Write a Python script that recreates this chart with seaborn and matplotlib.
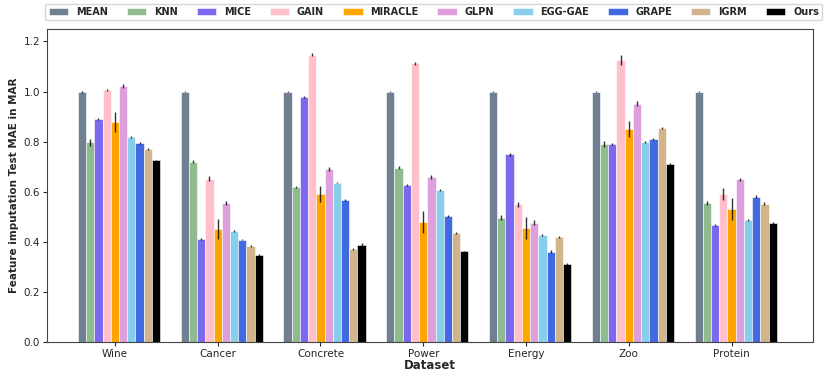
import matplotlib.pyplot as plt
import numpy as np
import pandas as pd
import seaborn as sns

datasets = ["Wine", "Cancer", "Concrete", "Power", "Energy", "Zoo", "Protein"]
methods = ["MEAN", "KNN", "MICE", "GAIN", "MIRACLE", "GLPN", "EGG-GAE", "GRAPE", "IGRM", "Ours"]
colors = ["slategray", "darkseagreen", "mediumslateblue", "pink", "orange",
          "plum", "skyblue", "royalblue", "tan", "black"]

# MAE per method, one value per dataset (same order as datasets)
mean_mae = [1.000, 1.000, 1.000, 1.000, 1.000, 1.000, 1.000]
knn_mae = [0.797, 0.719, 0.620, 0.696, 0.496, 0.791, 0.556]
mice_mae = [0.889, 0.412, 0.977, 0.627, 0.749, 0.789, 0.467]
gain_mae = [1.008, 0.651, 1.146, 1.113, 0.551, 1.126, 0.591]
miracle_mae = [0.877, 0.452, 0.592, 0.480, 0.456, 0.851, 0.532]
glpn_mae = [1.021, 0.556, 0.690, 0.659, 0.476, 0.952, 0.649]
egg_mae = [0.819, 0.444, 0.636, 0.607, 0.428, 0.800, 0.488]
grape_mae = [0.795, 0.409, 0.568, 0.505, 0.360, 0.811, 0.581]
igrm_mae = [0.772, 0.383, 0.372, 0.436, 0.420, 0.853, 0.552]
ours_mae = [0.725, 0.347, 0.389, 0.362, 0.311, 0.710, 0.476]

# standard deviations
mean_std = [0.004, 0.003, 0.003, 0.003, 0.003, 0.003, 0.003]
knn_std = [0.013, 0.006, 0.004, 0.006, 0.010, 0.011, 0.008]
mice_std = [0.004, 0.004, 0.004, 0.003, 0.005, 0.004, 0.004]
gain_std = [0.004, 0.010, 0.006, 0.006, 0.010, 0.018, 0.025]
miracle_std = [0.040, 0.040, 0.033, 0.043, 0.043, 0.033, 0.043]
glpn_std = [0.008, 0.008, 0.007, 0.008, 0.010, 0.010, 0.007]
egg_std = [0.003, 0.004, 0.003, 0.004, 0.004, 0.004, 0.005]
grape_std = [0.003, 0.003, 0.003, 0.004, 0.006, 0.004, 0.006]
igrm_std = [0.004, 0.004, 0.005, 0.005, 0.004, 0.004, 0.006]
ours_std = [0.003, 0.004, 0.006, 0.003, 0.003, 0.003, 0.005]

all_mae = [mean_mae, knn_mae, mice_mae, gain_mae, miracle_mae,
           glpn_mae, egg_mae, grape_mae, igrm_mae, ours_mae]
all_std = [mean_std, knn_std, mice_std, gain_std, miracle_std,
           glpn_std, egg_std, grape_std, igrm_std, ours_std]

rows = []
for m, vals, errs in zip(methods, all_mae, all_std):
    for d, v, e in zip(datasets, vals, errs):
        rows.append({"Dataset": d, "Method": m, "MAE": v, "std": e})
df = pd.DataFrame(rows)

sns.set_style("ticks")
plt.rcParams["font.family"] = ["DejaVu Sans"]

fig = plt.figure(figsize=(8.26, 3.71), dpi=100)
ax = fig.add_axes([0.057, 0.078, 0.927, 0.844])

sns.barplot(data=df, x="Dataset", y="MAE", hue="Method", order=datasets,
            hue_order=methods, palette=colors, saturation=1, errorbar=None,
            width=0.8, edgecolor="white", linewidth=0.4, ax=ax)

# error bars at the centre of each bar (patches come out method by method)
bars = ax.patches[: len(methods) * len(datasets)]
xs = [b.get_x() + b.get_width() / 2 for b in bars]
ys = [b.get_height() for b in bars]
errs = [e for s in all_std for e in s]
ax.errorbar(xs, ys, yerr=errs, fmt="none", ecolor="black", elinewidth=1.0,
            capsize=0, alpha=0.8)

ax.set_xticks(np.arange(len(datasets)) - 0.04)
ax.set_xticklabels(datasets, fontsize=7.5)
ax.tick_params(axis="x", pad=2, length=3)
ax.tick_params(axis="y", pad=2, length=3)
ax.set_xlim(-0.7, len(datasets) - 0.25)
ax.set_ylim(0, 1.25)
ax.set_yticks(np.arange(0, 1.21, 0.2))
ax.set_yticklabels([f"{t:.1f}" for t in np.arange(0, 1.21, 0.2)], fontsize=7.5)
ax.set_xlabel("Dataset", fontsize=8.5, fontweight="bold", labelpad=0)
ax.set_ylabel("Feature imputation Test MAE in MAR", fontsize=7.5,
              fontweight="bold", labelpad=3)
for s in ax.spines.values():
    s.set_visible(True)
    s.set_color("#444444")

handles, labels = ax.get_legend_handles_labels()
ax.legend(handles, labels, ncol=10, loc="lower center", bbox_to_anchor=(0.505, 1.012),
          frameon=True, prop={"weight": "bold", "size": 7},
          handlelength=2.0, handleheight=0.7, columnspacing=1.95, handletextpad=0.8,
          borderpad=0.35, fancybox=True)

fig.savefig("out.png", dpi=100)
